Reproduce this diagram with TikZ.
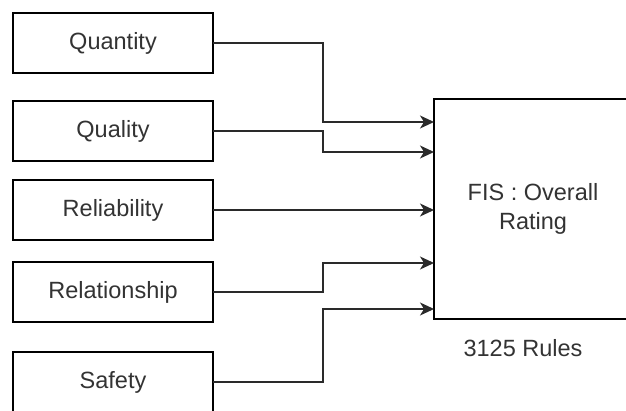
\documentclass[tikz,border=0pt]{standalone}
\usepackage{fontspec}
\setmainfont{Liberation Sans}
\usetikzlibrary{positioning,arrows.meta,calc}
\definecolor{inkgray}{HTML}{333333}
\definecolor{wiregray}{HTML}{2A2A2A}

\begin{document}
\begin{tikzpicture}[
  x=1pt, y=-1pt,
  font=\fontsize{23.5pt}{29pt}\selectfont,
  factor/.style={draw=black, line width=1.6pt, fill=white, text=inkgray,
                 minimum width=200pt, minimum height=60pt, outer sep=0pt},
  fisbox/.style={draw=black, line width=1.6pt, fill=white, text=inkgray,
                 minimum width=198pt, minimum height=220pt, outer sep=0pt,
                 align=center},
  lbl/.style={text=inkgray},
  arr/.style={-{Stealth[length=14pt, width=13pt, inset=4pt]},
              line width=1.6pt, draw=wiregray},
]
\useasboundingbox (0,0) rectangle (626,411);
\clip (0,0) rectangle (626,411);

% --- input factors (left column) ---
\node[factor] (qty) at (113,43) {Quantity};
\node[factor, below=28pt of qty] (qual) {Quality};
\node[factor, below=19pt of qual] (rel) {Reliability};
\node[factor, below=22pt of rel] (relship) {Relationship};
\node[factor, below=30pt of relship] (safe) {Safety};

% --- inference system (right) ---
\node[fisbox] (fis) at (533,209) {FIS : Overall\\Rating};
\node[lbl, below=17pt of fis.south, xshift=-10pt] (rules) {3125 Rules};

% --- entry points and bend line ---
\coordinate (bend) at (323,0);
\coordinate (in1) at ($(fis.north west)+(0,23)$);
\coordinate (in2) at ($(fis.north west)+(0,53)$);
\coordinate (in4) at ($(fis.north west)+(0,164)$);
\coordinate (in5) at ($(fis.north west)+(0,210)$);

\draw[arr] (qty.east) -- (qty.east -| bend) |- (in1);
\draw[arr] (qual.east) -- (qual.east -| bend) |- (in2);
\draw[arr] (rel.east) -- (rel.east -| fis.west);
\draw[arr] (relship.east) -- (relship.east -| bend) |- (in4);
\draw[arr] (safe.east) -- (safe.east -| bend) |- (in5);

\end{tikzpicture}
\end{document}
